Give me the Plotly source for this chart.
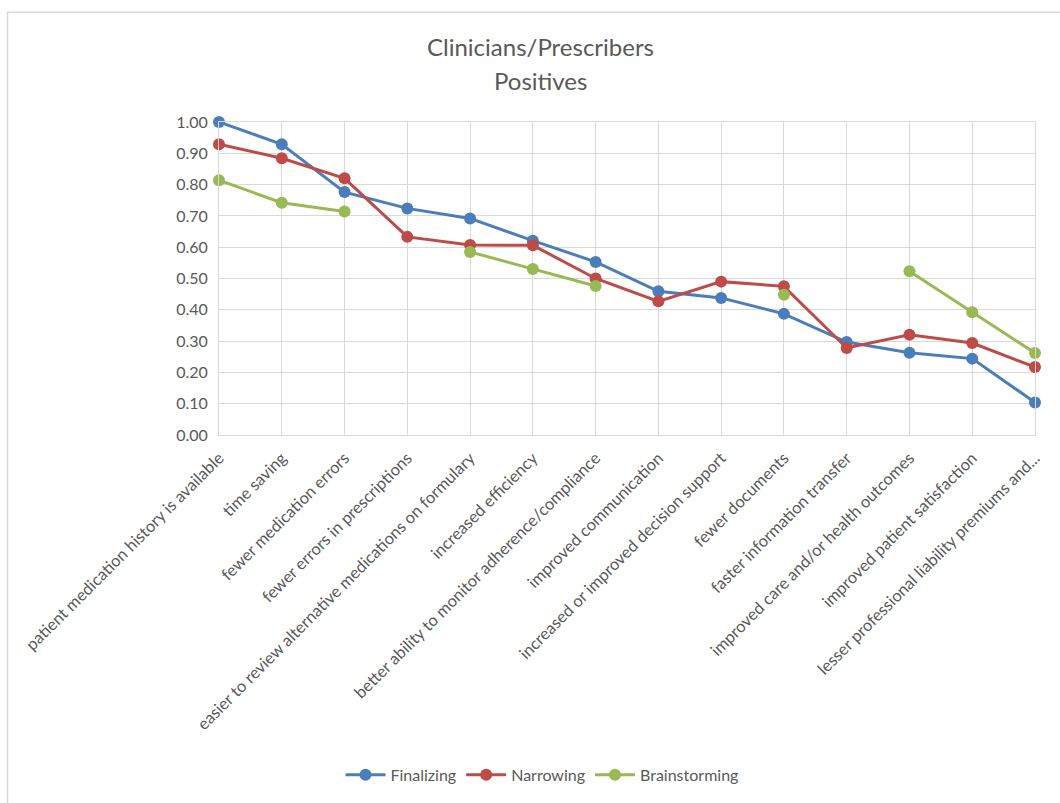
import plotly.graph_objects as go

categories = [
    "patient medication history is available",
    "time saving",
    "fewer medication errors",
    "fewer errors in prescriptions",
    "easier to review alternative medications on formulary",
    "increased efficiency",
    "better ability to monitor adherence/compliance",
    "improved communication",
    "increased or improved decision support",
    "fewer documents",
    "faster information transfer",
    "improved care and/or health outcomes",
    "improved patient satisfaction",
    "lesser professional liability premiums and...",
]

finalizing = [1.00, 0.929, 0.776, 0.724, 0.692, 0.621, 0.553, 0.459, 0.438, 0.387, 0.297, 0.263, 0.244, 0.104]
narrowing = [0.929, 0.884, 0.820, 0.633, 0.607, 0.606, 0.500, 0.427, 0.490, 0.475, 0.278, 0.320, 0.294, 0.217]
brainstorming = [0.814, 0.742, 0.714, None, 0.585, 0.530, 0.476, None, None, 0.448, None, 0.523, 0.392, 0.262]

series = [
    ("Finalizing", finalizing, "#4A7EBB"),
    ("Narrowing", narrowing, "#BE4B48"),
    ("Brainstorming", brainstorming, "#98B954"),
]

FONT = "Lato, Open Sans, sans-serif"
TEXT = "#595959"
GRID = "#D9D9D9"

fig = go.Figure()
for name, vals, color in series:
    fig.add_trace(go.Scatter(
        x=categories, y=vals, name=name, mode="lines+markers",
        line=dict(color=color, width=3),
        marker=dict(color=color, size=12),
        connectgaps=False, cliponaxis=False,
    ))

# plot-area geometry in pixels (for paper-coordinate placement)
W, H = 1060, 803
L, R, T, B = 219, 25, 122, 366
pw, ph = W - L - R, H - T - B

def px_x(x):
    return (x - L) / pw

def px_y(y):
    return (H - B - y) / ph

fig.update_layout(
    width=W, height=H,
    margin=dict(l=L, r=R, t=T, b=B, pad=0),
    paper_bgcolor="white", plot_bgcolor="white",
    font=dict(family=FONT, color=TEXT, size=16),
    showlegend=True,
    legend=dict(orientation="h", x=px_x(542), xanchor="center",
                y=px_y(779), yanchor="middle", font=dict(size=16, color=TEXT),
                itemwidth=40, tracegroupgap=0),
    xaxis=dict(
        type="category", range=[0, len(categories) - 1],
        showgrid=True, gridcolor=GRID, gridwidth=1,
        showline=True, linecolor=GRID, linewidth=1, mirror=True,
        tickangle=-45, tickfont=dict(size=16.5, color=TEXT),
        ticks="", ticklabelstandoff=6, zeroline=False, automargin=False,
    ),
    yaxis=dict(
        range=[0, 1], dtick=0.1, tickformat=".2f",
        showgrid=True, gridcolor=GRID, gridwidth=1,
        showline=True, linecolor=GRID, linewidth=1, mirror=True,
        tickfont=dict(size=16, color=TEXT), ticks="",
        ticklabelstandoff=7, zeroline=False, automargin=False,
    ),
    annotations=[
        dict(text="Clinicians/Prescribers", x=px_x(540), y=px_y(46),
             xref="paper", yref="paper", yanchor="middle", showarrow=False,
             font=dict(size=24, color=TEXT, family=FONT)),
        dict(text="Positives", x=px_x(540), y=px_y(80),
             xref="paper", yref="paper", yanchor="middle", showarrow=False,
             font=dict(size=24, color=TEXT, family=FONT)),
    ],
    shapes=[
        dict(type="rect", xref="paper", yref="paper",
             x0=px_x(7.5), x1=px_x(1075), y0=px_y(820), y1=px_y(11.5),
             line=dict(color=GRID, width=1.5), fillcolor="rgba(0,0,0,0)",
             layer="below"),
    ],
)

fig.write_html("out.html")
